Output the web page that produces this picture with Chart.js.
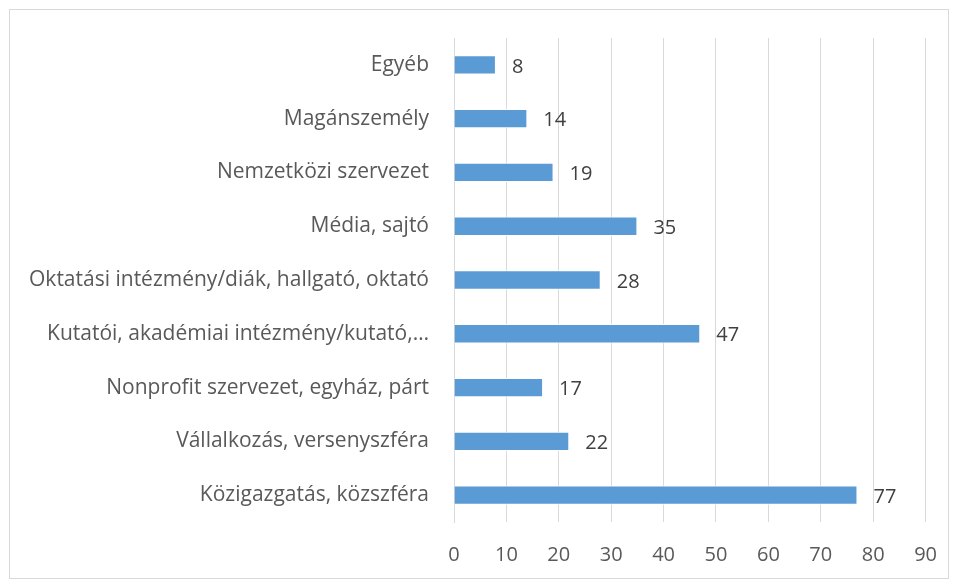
<!DOCTYPE html>
<html>
<head>
<meta charset="utf-8">
<script src="https://cdn.jsdelivr.net/npm/chart.js@4"></script>
<style>
  html, body { margin: 0; padding: 0; background: #fff; }
  #wrap { position: relative; width: 958px; height: 581px; }
  #frame { position: absolute; left: 9px; top: 9px; width: 938px; height: 568px; border: 1px solid #d9d9d9; }
  canvas { position: absolute; left: 0; top: 0; }
</style>
</head>
<body>
<div id="wrap">
  <div id="frame"></div>
  <canvas id="chart" width="958" height="581"></canvas>
</div>
<script>
const categories = [
    "Egyéb",
    "Magánszemély",
    "Nemzetközi szervezet",
    "Média, sajtó",
    "Oktatási intézmény/diák, hallgató, oktató",
    "Kutatói, akadémiai intézmény/kutató,…",
    "Nonprofit szervezet, egyház, párt",
    "Vállalkozás, versenyszféra",
    "Közigazgatás, közszféra"
];
const counts = [8, 14, 19, 35, 28, 47, 17, 22, 77];
const xTicks = [0, 10, 20, 30, 40, 50, 60, 70, 80, 90];

const FONT = "'Open Sans', sans-serif";

// draws the value next to each bar end
const barValues = {
    id: "barValues",
    afterDatasetsDraw(chart) {
        const ctx = chart.ctx;
        const meta = chart.getDatasetMeta(0);
        ctx.save();
        ctx.font = "20px " + FONT;
        ctx.fillStyle = "#404040";
        ctx.textAlign = "left";
        ctx.textBaseline = "middle";
        meta.data.forEach((bar, i) => {
            ctx.fillText(String(counts[i]), bar.x + 16, bar.y + 2);
        });
        ctx.restore();
    }
};

new Chart(document.getElementById("chart").getContext("2d"), {
    type: "bar",
    data: {
        labels: categories,
        datasets: [{
            data: counts,
            backgroundColor: "#5b9bd5",
            borderColor: "#ffffff",
            borderWidth: 1,
            barPercentage: 0.36,
            categoryPercentage: 1
        }]
    },
    options: {
        indexAxis: "y",
        responsive: false,
        animation: false,
        layout: { padding: { top: 38, right: 30, left: 0, bottom: 0 } },
        plugins: {
            legend: { display: false },
            tooltip: { enabled: false }
        },
        scales: {
            x: {
                min: 0,
                max: 90,
                afterBuildTicks(axis) { axis.ticks = xTicks.map(v => ({ value: v })); },
                afterFit(axis) { axis.height = 59; },
                grid: { color: "#d9d9d9", lineWidth: 1, drawTicks: false },
                border: { display: false },
                ticks: { color: "#595959", font: { family: FONT, size: 20 }, padding: 21 }
            },
            y: {
                afterFit(axis) { axis.width = 454; },
                grid: { display: false, drawTicks: false },
                border: { display: true, color: "#d9d9d9", width: 1 },
                ticks: { color: "#595959", font: { family: FONT, size: 21 }, padding: 25 }
            }
        }
    },
    plugins: [barValues]
});
</script>
</body>
</html>
